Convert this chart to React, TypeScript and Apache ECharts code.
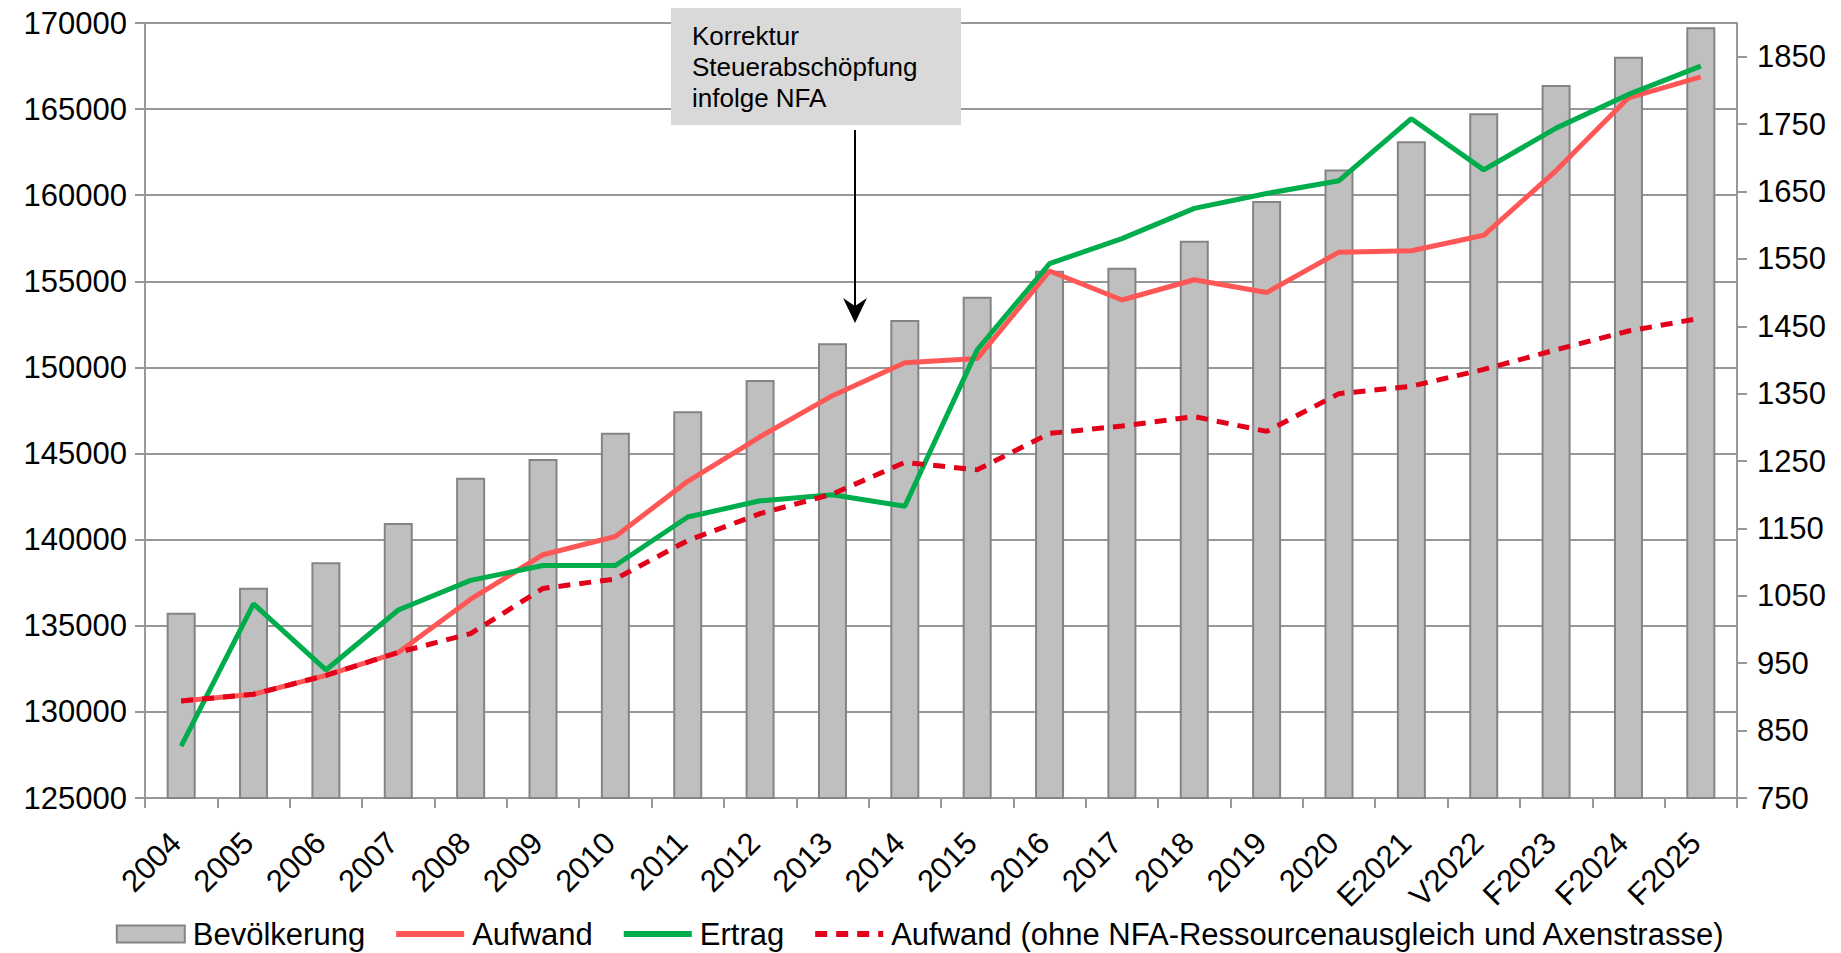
import React, { useEffect, useRef } from "react";
import * as echarts from "echarts";

const categories = ["2004","2005","2006","2007","2008","2009","2010","2011","2012","2013","2014","2015","2016","2017","2018","2019","2020","E2021","V2022","F2023","F2024","F2025"];
const bevoelkerung = [135760,137210,138690,140970,143600,144680,146210,147450,149270,151400,152755,154110,155620,155790,157360,159665,161500,163130,164756,166400,168044,169750];
const aufwand = [894,904,932,966,1045,1111,1138,1220,1286,1347,1396,1402,1532,1489,1519,1500,1560,1562,1585,1681,1789,1820];
const ertrag = [827,1038,940,1029,1073,1095,1095,1167,1191,1200,1183,1415,1543,1580,1625,1647,1666,1758,1682,1744,1794,1836];
const aufwandOhne = [894,904,932,966,994,1061,1075,1132,1172,1201,1248,1237,1291,1302,1316,1294,1350,1361,1386,1415,1443,1462];
const rightTicks = [750,850,950,1050,1150,1250,1350,1450,1550,1650,1750,1850];
const annotationLines = ["Korrektur", "Steuerabschöpfung", "infolge NFA"];

const FONT = "Arial, 'Liberation Sans', Helvetica, sans-serif";
const GRAY = "#979797";
const FS = 31;

export default function App() {
  const ref = useRef<HTMLDivElement>(null);
  useEffect(() => {
    if (!ref.current) return;
    const chart = echarts.init(ref.current, null, { renderer: "svg" });
    const lineLegend = (name: string) => ({
      name,
      itemStyle: { opacity: 0 },
      lineStyle: { width: 6 },
    });
    chart.setOption({
      animation: false,
      backgroundColor: "#ffffff",
      textStyle: { fontFamily: FONT },
      grid: { left: 145, right: 104, top: 23, bottom: 155, containLabel: false },
      legend: {
        left: "center",
        top: 913,
        padding: 5,
        itemWidth: 68,
        itemHeight: 17,
        itemGap: 28,
        textStyle: { fontFamily: FONT, fontSize: FS, color: "#000", lineHeight: 32, padding: [0, 0, 0, 3] },
        data: [
          { name: "Bevölkerung", icon: "rect" },
          lineLegend("Aufwand"),
          lineLegend("Ertrag"),
          lineLegend("Aufwand (ohne NFA-Ressourcenausgleich und Axenstrasse)"),
        ],
      },
      xAxis: {
        type: "category",
        data: categories,
        boundaryGap: true,
        axisLine: { lineStyle: { color: GRAY, width: 2 } },
        axisTick: { show: true, length: 10, lineStyle: { color: GRAY, width: 2 } },
        axisLabel: { rotate: 45, fontSize: FS, color: "#000", fontFamily: FONT, margin: 34, interval: 0, padding: [0, 8, 0, 0] },
      },
      yAxis: [
        {
          type: "value",
          min: 125000,
          max: 170000,
          interval: 5000,
          axisLine: { show: true, lineStyle: { color: GRAY, width: 2 } },
          axisTick: { show: true, length: 10, lineStyle: { color: GRAY, width: 2 } },
          axisLabel: { fontSize: FS, color: "#000", fontFamily: FONT, margin: 18, formatter: (v: number) => String(v) },
          splitLine: { show: true, lineStyle: { color: GRAY, width: 2 } },
        },
        {
          type: "value",
          min: 750,
          max: 1900,
          interval: 50,
          position: "right",
          axisLine: { show: true, lineStyle: { color: GRAY, width: 2 } },
          axisTick: { show: true, length: 10, customValues: rightTicks, lineStyle: { color: GRAY, width: 2 } },
          axisLabel: { fontSize: FS, color: "#000", fontFamily: FONT, margin: 20, customValues: rightTicks, formatter: (v: number) => String(v) },
          splitLine: { show: false },
        },
      ],
      series: [
        {
          name: "Bevölkerung",
          type: "bar",
          data: bevoelkerung,
          yAxisIndex: 0,
          barWidth: 29,
          itemStyle: { color: "#BFBFBF", borderColor: "#848484", borderWidth: 2 },
          z: 1,
        },
        {
          name: "Aufwand",
          type: "line",
          data: aufwand,
          yAxisIndex: 1,
          symbol: "none",
          lineStyle: { color: "#FF5656", width: 5 },
          itemStyle: { color: "#FF5656" },
          z: 3,
        },
        {
          name: "Ertrag",
          type: "line",
          data: ertrag,
          yAxisIndex: 1,
          symbol: "none",
          lineStyle: { color: "#00AD4C", width: 5 },
          itemStyle: { color: "#00AD4C" },
          z: 4,
        },
        {
          name: "Aufwand (ohne NFA-Ressourcenausgleich und Axenstrasse)",
          type: "line",
          data: aufwandOhne,
          yAxisIndex: 1,
          symbol: "none",
          lineStyle: { color: "#E2001A", width: 5, type: [12, 9] },
          itemStyle: { color: "#E2001A" },
          z: 5,
        },
      ],
      graphic: [
        {
          type: "rect",
          shape: { x: 671, y: 8, width: 290, height: 117 },
          style: { fill: "#D9D9D9" },
          z: 10,
        },
        {
          type: "text",
          x: 692,
          y: 20,
          style: {
            text: annotationLines.join("\n"),
            font: `26px ${FONT}`,
            fill: "#000",
            lineHeight: 31,
          },
          z: 11,
        },
        {
          type: "line",
          shape: { x1: 855, y1: 130, x2: 855, y2: 312 },
          style: { stroke: "#000", lineWidth: 2 },
          z: 11,
        },
        {
          type: "polygon",
          shape: { points: [[843, 298], [855, 323], [867, 298], [855, 306]] },
          style: { fill: "#000" },
          z: 11,
        },
      ],
    });
    return () => chart.dispose();
  }, []);
  return <div ref={ref} style={{ position: "fixed", left: 0, top: 0, width: 1841, height: 953 }} />;
}
